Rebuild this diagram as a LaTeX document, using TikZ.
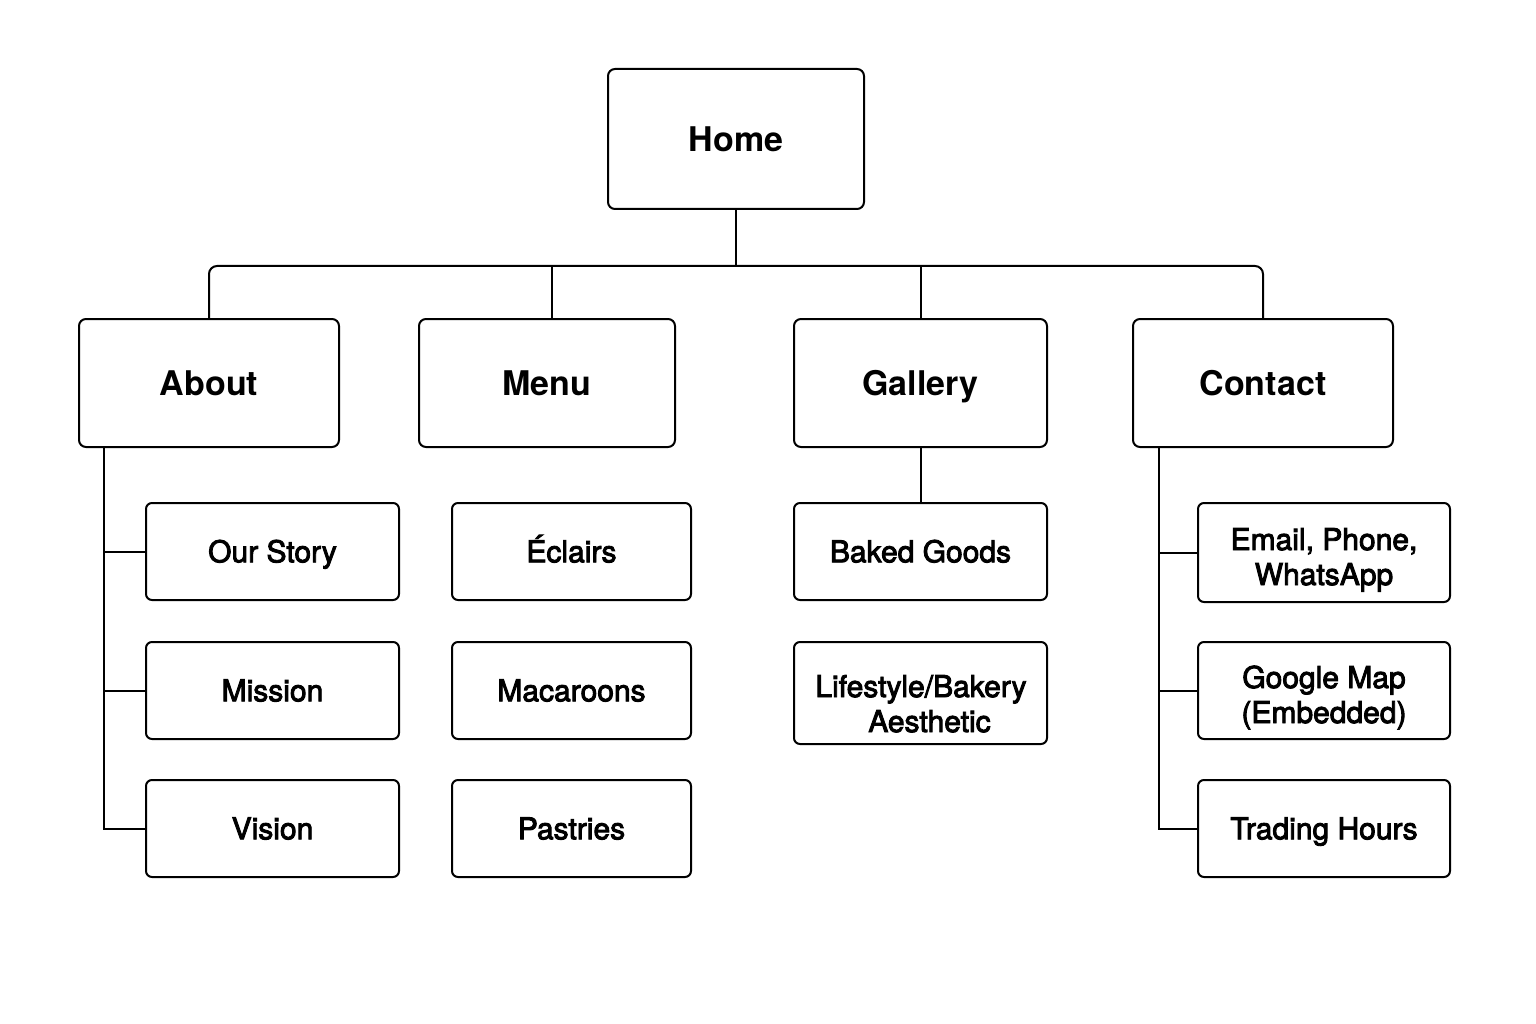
\documentclass[tikz,border=0pt]{standalone}
\usepackage{fontspec}
\setmainfont{TeX Gyre Heros}
\newfontfamily\medfont[FakeBold=3]{TeX Gyre Heros}
\begin{document}
\begin{tikzpicture}[x=1pt,y=-1pt,line width=2pt,
  mainbox/.style={draw,rounded corners=7pt,align=center,inner sep=0pt,
    text height=24.4pt,text depth=0pt,
    font=\fontsize{34}{40}\selectfont\bfseries},
  subbox/.style={draw,rounded corners=6pt,align=center,inner sep=0pt,
    text height=21.5pt,text depth=0pt,
    font=\fontsize{30}{35}\selectfont\medfont},
  conn/.style={draw,line width=2pt}]
\useasboundingbox (0,0) rectangle (1536,1024);
% main level
\node[mainbox,minimum width=256pt,minimum height=140pt] (home) at (736,139) {Home};
\node[mainbox,minimum width=260pt,minimum height=128pt] (about) at (209,383) {About};
\node[mainbox,minimum width=256pt,minimum height=128pt] (menu) at (547,383) {Menu};
\node[mainbox,minimum width=253pt,minimum height=128pt] (gallery) at (920.5,383) {Gallery};
\node[mainbox,minimum width=260pt,minimum height=128pt] (contact) at (1263,383) {Contact};
% about children
\node[subbox,minimum width=253pt,minimum height=97pt] (story) at (272.5,551.5) {Our Story};
\node[subbox,minimum width=253pt,minimum height=97pt] (mission) at (272.5,690.5) {Mission};
\node[subbox,minimum width=253pt,minimum height=97pt] (vision) at (272.5,828.5) {Vision};
% menu children
\node[subbox,minimum width=239pt,minimum height=97pt] (eclairs) at (571.5,551.5) {Éclairs};
\node[subbox,minimum width=239pt,minimum height=97pt] (macaroons) at (571.5,690.5) {Macaroons};
\node[subbox,minimum width=239pt,minimum height=97pt] (pastries) at (571.5,828.5) {Pastries};
% gallery children
\node[subbox,minimum width=253pt,minimum height=97pt] (baked) at (920.5,551.5) {Baked Goods};
\node[subbox,minimum width=253pt,minimum height=102pt,text height=78pt] (lifestyle) at (920.5,693) {\hspace*{1pt}Lifestyle/Bakery\\\hspace*{18pt}Aesthetic};
% contact children
\node[subbox,minimum width=252pt,minimum height=99pt,text height=65pt] (email) at (1324,552.5) {Email, Phone,\\WhatsApp};
\node[subbox,minimum width=252pt,minimum height=97pt,text height=65pt] (gmap) at (1324,690.5) {Google Map\\(Embedded)};
\node[subbox,minimum width=252pt,minimum height=97pt] (hours) at (1324,828.5) {Trading Hours};
% bus
\coordinate (bus) at (736,266);
\coordinate (aboutx) at (104,0);
\coordinate (contactx) at (1159,0);
\coordinate (menux) at (552,0);
\draw[conn] (home.south) -- (bus);
\draw[conn,rounded corners=8pt] (about.north) |- (bus) -| (contact.north);
\draw[conn] (menux |- bus) -- (menux |- menu.north);
\draw[conn] (gallery.north |- bus) -- (gallery.north);
% about branch
\draw[conn] (about.south -| aboutx) |- (vision.west);
\draw[conn] (story.west -| aboutx) -- (story.west);
\draw[conn] (mission.west -| aboutx) -- (mission.west);
% gallery branch
\draw[conn] (gallery.south) -- (baked.north);
% contact branch
\draw[conn] (contact.south -| contactx) |- (hours.west);
\draw[conn] (email.west -| contactx) -- (email.west);
\draw[conn] (gmap.west -| contactx) -- (gmap.west);
\end{tikzpicture}
\end{document}
